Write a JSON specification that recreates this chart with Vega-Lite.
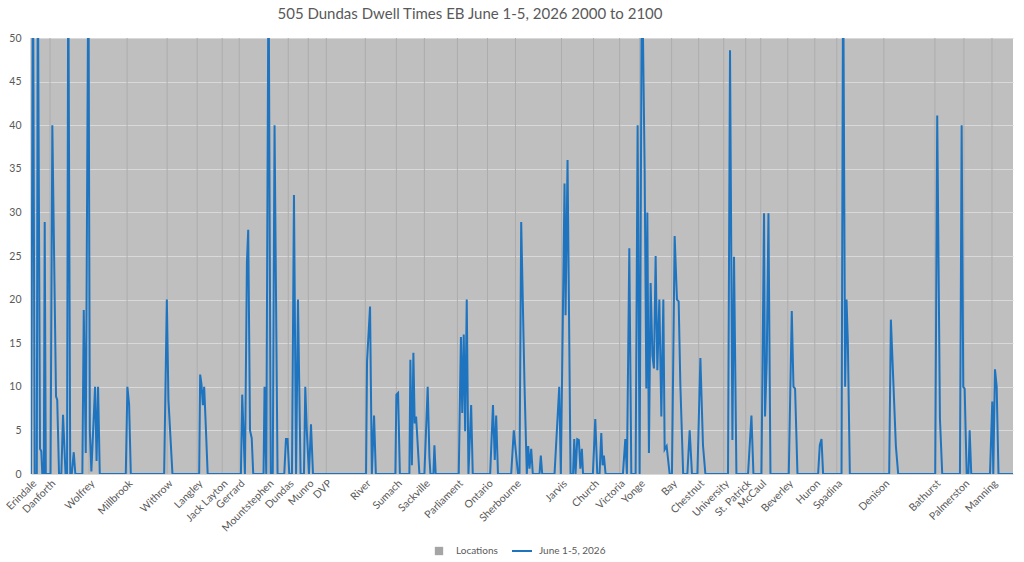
{
  "$schema": "https://vega.github.io/schema/vega-lite/v6.json",
  "width": 982,
  "height": 436,
  "autosize": {"type": "none"},
  "padding": {"left": 31, "top": 38, "right": 11, "bottom": 88},
  "background": "white",
  "config": {
    "view": {"stroke": null, "fill": "#bfbfbf"},
    "font": "Lato",
    "axisY": {"grid": true, "gridColor": "#d9d9d9", "gridWidth": 1, "domain": false, "ticks": false, "labelColor": "#595959", "labelFontSize": 10.5, "labelPadding": 10, "title": null},
    "axisX": {"grid": false, "domain": false, "ticks": false, "labelColor": "#595959", "labelFontSize": 10.5, "title": null, "labelOverlap": false, "labelFlush": false, "labelBound": false}
  },
  "title": {"text": "505 Dundas Dwell Times EB June 1-5, 2026 2000 to 2100", "fontSize": 15, "fontWeight": "normal", "color": "#595959", "anchor": "middle", "offset": 11, "dx": -52, "font": "Lato"},
  "datasets": {
    "locations": [
      {"pos": 32, "name": "Erindale"}, {"pos": 51, "name": "Danforth"}, {"pos": 90, "name": "Wolfrey"},
      {"pos": 128, "name": "Millbrook"}, {"pos": 168, "name": "Withrow"}, {"pos": 198, "name": "Langley"},
      {"pos": 223, "name": "Jack Layton"}, {"pos": 240, "name": "Gerrard"}, {"pos": 269, "name": "Mountstephen"},
      {"pos": 289, "name": "Dundas"}, {"pos": 309, "name": "Munro"}, {"pos": 327, "name": "DVP"},
      {"pos": 366, "name": "River"}, {"pos": 397, "name": "Sumach"}, {"pos": 425, "name": "Sackville"},
      {"pos": 458, "name": "Parliament"}, {"pos": 488, "name": "Ontario"}, {"pos": 516, "name": "Sherbourne"},
      {"pos": 562, "name": "Jarvis"}, {"pos": 594, "name": "Church"}, {"pos": 620, "name": "Victoria"},
      {"pos": 640, "name": "Yonge"}, {"pos": 672, "name": "Bay"}, {"pos": 699, "name": "Chestnut"},
      {"pos": 724, "name": "University"}, {"pos": 746, "name": "St. Patrick"}, {"pos": 761, "name": "McCaul"},
      {"pos": 788, "name": "Beverley"}, {"pos": 815, "name": "Huron"}, {"pos": 837, "name": "Spadina"},
      {"pos": 884, "name": "Denison"}, {"pos": 935, "name": "Bathurst"}, {"pos": 964, "name": "Palmerston"},
      {"pos": 992, "name": "Manning"}
    ],
    "dwell": [
      {"pos": 32, "dwell": 0}, {"pos": 32.7, "dwell": 18.6}, {"pos": 34, "dwell": 60}, {"pos": 35.7, "dwell": 0},
      {"pos": 37.8, "dwell": 0}, {"pos": 38.8, "dwell": 60}, {"pos": 41, "dwell": 2.9}, {"pos": 42.3, "dwell": 2.6},
      {"pos": 43.3, "dwell": 0}, {"pos": 44.8, "dwell": 0}, {"pos": 45.7, "dwell": 28.9}, {"pos": 46.8, "dwell": 0},
      {"pos": 51.5, "dwell": 0}, {"pos": 53.3, "dwell": 40}, {"pos": 57, "dwell": 8.9}, {"pos": 58.2, "dwell": 8.5},
      {"pos": 60, "dwell": 0}, {"pos": 62.3, "dwell": 0}, {"pos": 64, "dwell": 6.8}, {"pos": 66.5, "dwell": 0},
      {"pos": 68, "dwell": 0}, {"pos": 69.2, "dwell": 60}, {"pos": 71.2, "dwell": 0}, {"pos": 72.7, "dwell": 0},
      {"pos": 74.7, "dwell": 2.5}, {"pos": 76.3, "dwell": 0}, {"pos": 83.3, "dwell": 0}, {"pos": 84.7, "dwell": 18.8},
      {"pos": 86.7, "dwell": 2.4}, {"pos": 89.3, "dwell": 60}, {"pos": 90.8, "dwell": 4.9}, {"pos": 92.3, "dwell": 0.3},
      {"pos": 96, "dwell": 10}, {"pos": 97.5, "dwell": 1.5}, {"pos": 99, "dwell": 10}, {"pos": 100.7, "dwell": 0},
      {"pos": 126.7, "dwell": 0}, {"pos": 128.3, "dwell": 10}, {"pos": 130, "dwell": 8}, {"pos": 131.7, "dwell": 0},
      {"pos": 165, "dwell": 0}, {"pos": 167.7, "dwell": 20}, {"pos": 169.3, "dwell": 8.5}, {"pos": 173.3, "dwell": 0},
      {"pos": 200, "dwell": 0}, {"pos": 201, "dwell": 11.4}, {"pos": 202.3, "dwell": 10.3}, {"pos": 203.7, "dwell": 7.9},
      {"pos": 205, "dwell": 10}, {"pos": 206.3, "dwell": 6.4}, {"pos": 208.5, "dwell": 0},
      {"pos": 241.7, "dwell": 0}, {"pos": 243, "dwell": 9.1}, {"pos": 245.7, "dwell": 0}, {"pos": 247.7, "dwell": 24.3},
      {"pos": 249, "dwell": 28}, {"pos": 250.8, "dwell": 5}, {"pos": 252.5, "dwell": 4.1}, {"pos": 254, "dwell": 0},
      {"pos": 264.3, "dwell": 0}, {"pos": 265.3, "dwell": 10}, {"pos": 267, "dwell": 0}, {"pos": 269.3, "dwell": 60},
      {"pos": 271.5, "dwell": 0}, {"pos": 273.5, "dwell": 0}, {"pos": 275.3, "dwell": 40}, {"pos": 278.3, "dwell": 0},
      {"pos": 285, "dwell": 0}, {"pos": 286.7, "dwell": 4}, {"pos": 288.3, "dwell": 4}, {"pos": 290, "dwell": 0},
      {"pos": 292.7, "dwell": 0}, {"pos": 294.7, "dwell": 32}, {"pos": 296.8, "dwell": 0}, {"pos": 298.7, "dwell": 20},
      {"pos": 301.3, "dwell": 0}, {"pos": 304.7, "dwell": 0}, {"pos": 306, "dwell": 10}, {"pos": 307.5, "dwell": 5},
      {"pos": 309.7, "dwell": 0}, {"pos": 311.7, "dwell": 5.7}, {"pos": 313.7, "dwell": 0},
      {"pos": 366.7, "dwell": 0}, {"pos": 367.7, "dwell": 12.9}, {"pos": 370.7, "dwell": 19.2}, {"pos": 372.5, "dwell": 0},
      {"pos": 374.7, "dwell": 6.7}, {"pos": 376.5, "dwell": 0}, {"pos": 396, "dwell": 0}, {"pos": 397, "dwell": 9.1},
      {"pos": 398.7, "dwell": 9.3}, {"pos": 400.5, "dwell": 0}, {"pos": 410, "dwell": 0}, {"pos": 411, "dwell": 13.1},
      {"pos": 412.5, "dwell": 1}, {"pos": 414, "dwell": 13.9}, {"pos": 415.3, "dwell": 5.8}, {"pos": 416.7, "dwell": 6.6},
      {"pos": 420, "dwell": 0}, {"pos": 425, "dwell": 0}, {"pos": 428.3, "dwell": 10}, {"pos": 430, "dwell": 2},
      {"pos": 431, "dwell": 0}, {"pos": 434, "dwell": 0}, {"pos": 435, "dwell": 3.3}, {"pos": 436.3, "dwell": 0},
      {"pos": 459.3, "dwell": 0}, {"pos": 461.5, "dwell": 15.7}, {"pos": 462.8, "dwell": 7}, {"pos": 464.3, "dwell": 16},
      {"pos": 465.7, "dwell": 4.9}, {"pos": 467.3, "dwell": 20}, {"pos": 469, "dwell": 0}, {"pos": 471.7, "dwell": 7.9},
      {"pos": 473.3, "dwell": 0}, {"pos": 490.7, "dwell": 0}, {"pos": 493.5, "dwell": 7.9}, {"pos": 495.3, "dwell": 1.6},
      {"pos": 496.7, "dwell": 6.7}, {"pos": 498.5, "dwell": 0}, {"pos": 511.7, "dwell": 0}, {"pos": 514.3, "dwell": 5},
      {"pos": 518.5, "dwell": 0}, {"pos": 520, "dwell": 0}, {"pos": 521.7, "dwell": 28.9}, {"pos": 525, "dwell": 10.2},
      {"pos": 527.3, "dwell": 0}, {"pos": 528.7, "dwell": 3.2}, {"pos": 530, "dwell": 0.6}, {"pos": 531.7, "dwell": 2.9},
      {"pos": 533.3, "dwell": 0}, {"pos": 540, "dwell": 0}, {"pos": 541.3, "dwell": 2.1}, {"pos": 542.7, "dwell": 0},
      {"pos": 555, "dwell": 0}, {"pos": 559.7, "dwell": 10}, {"pos": 561.3, "dwell": 0}, {"pos": 565, "dwell": 33.3},
      {"pos": 566, "dwell": 18.2}, {"pos": 568, "dwell": 36}, {"pos": 571, "dwell": 0}, {"pos": 573.5, "dwell": 0},
      {"pos": 574.7, "dwell": 4}, {"pos": 576, "dwell": 0}, {"pos": 577.7, "dwell": 4}, {"pos": 579.3, "dwell": 3.9},
      {"pos": 580.8, "dwell": 0.6}, {"pos": 582.3, "dwell": 2.9}, {"pos": 583.5, "dwell": 0},
      {"pos": 593.3, "dwell": 0}, {"pos": 595.7, "dwell": 6.3}, {"pos": 597.7, "dwell": 0}, {"pos": 600, "dwell": 0},
      {"pos": 601.7, "dwell": 4.7}, {"pos": 603, "dwell": 1}, {"pos": 604.3, "dwell": 2.1}, {"pos": 606, "dwell": 0},
      {"pos": 623.3, "dwell": 0}, {"pos": 625.7, "dwell": 4}, {"pos": 627.3, "dwell": 0}, {"pos": 629.7, "dwell": 25.9},
      {"pos": 631.7, "dwell": 0}, {"pos": 636, "dwell": 0}, {"pos": 638, "dwell": 40}, {"pos": 640, "dwell": 0},
      {"pos": 642.3, "dwell": 60}, {"pos": 645, "dwell": 35}, {"pos": 646.7, "dwell": 9.8}, {"pos": 647.7, "dwell": 30},
      {"pos": 649.3, "dwell": 2.4}, {"pos": 651, "dwell": 21.9}, {"pos": 652.8, "dwell": 13.6}, {"pos": 654.3, "dwell": 12.1},
      {"pos": 656, "dwell": 25}, {"pos": 657.7, "dwell": 11.9}, {"pos": 659.7, "dwell": 20}, {"pos": 661.7, "dwell": 6.6},
      {"pos": 663.7, "dwell": 20}, {"pos": 665, "dwell": 2.8}, {"pos": 667, "dwell": 3.2}, {"pos": 670, "dwell": 0},
      {"pos": 672.3, "dwell": 0}, {"pos": 675, "dwell": 27.3}, {"pos": 677.3, "dwell": 20}, {"pos": 679, "dwell": 19.8},
      {"pos": 680.7, "dwell": 10.2}, {"pos": 683.5, "dwell": 0}, {"pos": 687.7, "dwell": 0}, {"pos": 690, "dwell": 5},
      {"pos": 692.3, "dwell": 0}, {"pos": 697.7, "dwell": 0}, {"pos": 700.7, "dwell": 13.3}, {"pos": 703.3, "dwell": 3.3},
      {"pos": 705.7, "dwell": 0}, {"pos": 728.3, "dwell": 0}, {"pos": 730.3, "dwell": 48.6}, {"pos": 732.7, "dwell": 3.9},
      {"pos": 734.3, "dwell": 24.9}, {"pos": 736.7, "dwell": 0}, {"pos": 748.3, "dwell": 0}, {"pos": 751.7, "dwell": 6.7},
      {"pos": 753.7, "dwell": 0}, {"pos": 761.7, "dwell": 0}, {"pos": 764.3, "dwell": 29.9}, {"pos": 765.3, "dwell": 6.6},
      {"pos": 767, "dwell": 13}, {"pos": 768.7, "dwell": 29.9}, {"pos": 770.7, "dwell": 0}, {"pos": 789, "dwell": 0},
      {"pos": 792, "dwell": 18.7}, {"pos": 793.7, "dwell": 10}, {"pos": 795.3, "dwell": 9.8}, {"pos": 797.7, "dwell": 0},
      {"pos": 818.3, "dwell": 0}, {"pos": 820, "dwell": 3.3}, {"pos": 821.7, "dwell": 4}, {"pos": 823.3, "dwell": 0},
      {"pos": 841.7, "dwell": 0}, {"pos": 843.3, "dwell": 60}, {"pos": 845.3, "dwell": 10}, {"pos": 846.7, "dwell": 20},
      {"pos": 848, "dwell": 15.2}, {"pos": 850, "dwell": 0}, {"pos": 889.3, "dwell": 0}, {"pos": 891, "dwell": 17.7},
      {"pos": 896, "dwell": 3.2}, {"pos": 898.3, "dwell": 0}, {"pos": 935.3, "dwell": 0}, {"pos": 937.3, "dwell": 41.1},
      {"pos": 940, "dwell": 6.4}, {"pos": 942.3, "dwell": 0}, {"pos": 960, "dwell": 0}, {"pos": 961.7, "dwell": 40},
      {"pos": 963.3, "dwell": 10}, {"pos": 964.7, "dwell": 9.8}, {"pos": 966.7, "dwell": 0}, {"pos": 968.5, "dwell": 0},
      {"pos": 969.7, "dwell": 5}, {"pos": 971.3, "dwell": 0}, {"pos": 990, "dwell": 0}, {"pos": 992.3, "dwell": 8.3},
      {"pos": 993.3, "dwell": 0}, {"pos": 995, "dwell": 12}, {"pos": 996.7, "dwell": 10}, {"pos": 998.5, "dwell": 0},
      {"pos": 1013, "dwell": 0}
    ]
  },
  "layer": [
    {
      "data": {"name": "locations"},
      "mark": {"type": "rule", "strokeWidth": 1},
      "encoding": {
        "x": {
          "field": "pos", "type": "quantitative",
          "scale": {"domain": [32, 1013], "nice": false, "zero": false},
          "axis": {
            "values": [32, 51, 90, 128, 168, 198, 223, 240, 269, 289, 309, 327, 366, 397, 425, 458, 488, 516, 562, 594, 620, 640, 672, 699, 724, 746, 761, 788, 815, 837, 884, 935, 964, 992],
            "labelExpr": "{'32':'Erindale','51':'Danforth','90':'Wolfrey','128':'Millbrook','168':'Withrow','198':'Langley','223':'Jack Layton','240':'Gerrard','269':'Mountstephen','289':'Dundas','309':'Munro','327':'DVP','366':'River','397':'Sumach','425':'Sackville','458':'Parliament','488':'Ontario','516':'Sherbourne','562':'Jarvis','594':'Church','620':'Victoria','640':'Yonge','672':'Bay','699':'Chestnut','724':'University','746':'St. Patrick','761':'McCaul','788':'Beverley','815':'Huron','837':'Spadina','884':'Denison','935':'Bathurst','964':'Palmerston','992':'Manning'}[datum.value]",
            "labelAngle": -45, "labelAlign": "right", "labelBaseline": "top",
            "labelOverlap": false, "labelFlush": false, "labelBound": false, "labelPadding": 4
          }
        },
        "color": {
          "datum": "Locations",
          "scale": {"domain": ["Locations", "June 1-5, 2026"], "range": ["#adadad", "#1f74bf"]},
          "legend": {
            "title": null, "orient": "none", "legendX": 403, "legendY": 508, "direction": "horizontal",
            "labelColor": "#595959", "labelFontSize": 10, "labelOffset": 12, "columnPadding": 10, "symbolSize": 400,
            "encode": {
              "symbols": {
                "update": {
                  "shape": {"signal": "datum.value === 'Locations' ? 'square' : 'stroke'"},
                  "size": {"signal": "datum.value === 'Locations' ? 70 : 400"},
                  "fill": {"signal": "datum.value === 'Locations' ? '#a5a5a5' : 'transparent'"},
                  "stroke": {"signal": "datum.value === 'Locations' ? '#a5a5a5' : '#1f74bf'"},
                  "strokeWidth": {"signal": "datum.value === 'Locations' ? 0 : 2"}
                }
              }
            }
          }
        }
      }
    },
    {
      "data": {"name": "dwell"},
      "mark": {"type": "line", "strokeWidth": 2, "clip": true},
      "encoding": {
        "x": {
          "field": "pos", "type": "quantitative",
          "axis": {
            "values": [32, 51, 90, 128, 168, 198, 223, 240, 269, 289, 309, 327, 366, 397, 425, 458, 488, 516, 562, 594, 620, 640, 672, 699, 724, 746, 761, 788, 815, 837, 884, 935, 964, 992],
            "labelAngle": -45, "labelAlign": "right", "labelBaseline": "top",
            "labelOverlap": false, "labelFlush": false, "labelBound": false, "labelPadding": 4
          }
        },
        "y": {
          "field": "dwell", "type": "quantitative",
          "scale": {"domain": [0, 50], "nice": false},
          "axis": {"values": [0, 5, 10, 15, 20, 25, 30, 35, 40, 45, 50]}
        },
        "color": {"datum": "June 1-5, 2026"}
      }
    }
  ]
}
